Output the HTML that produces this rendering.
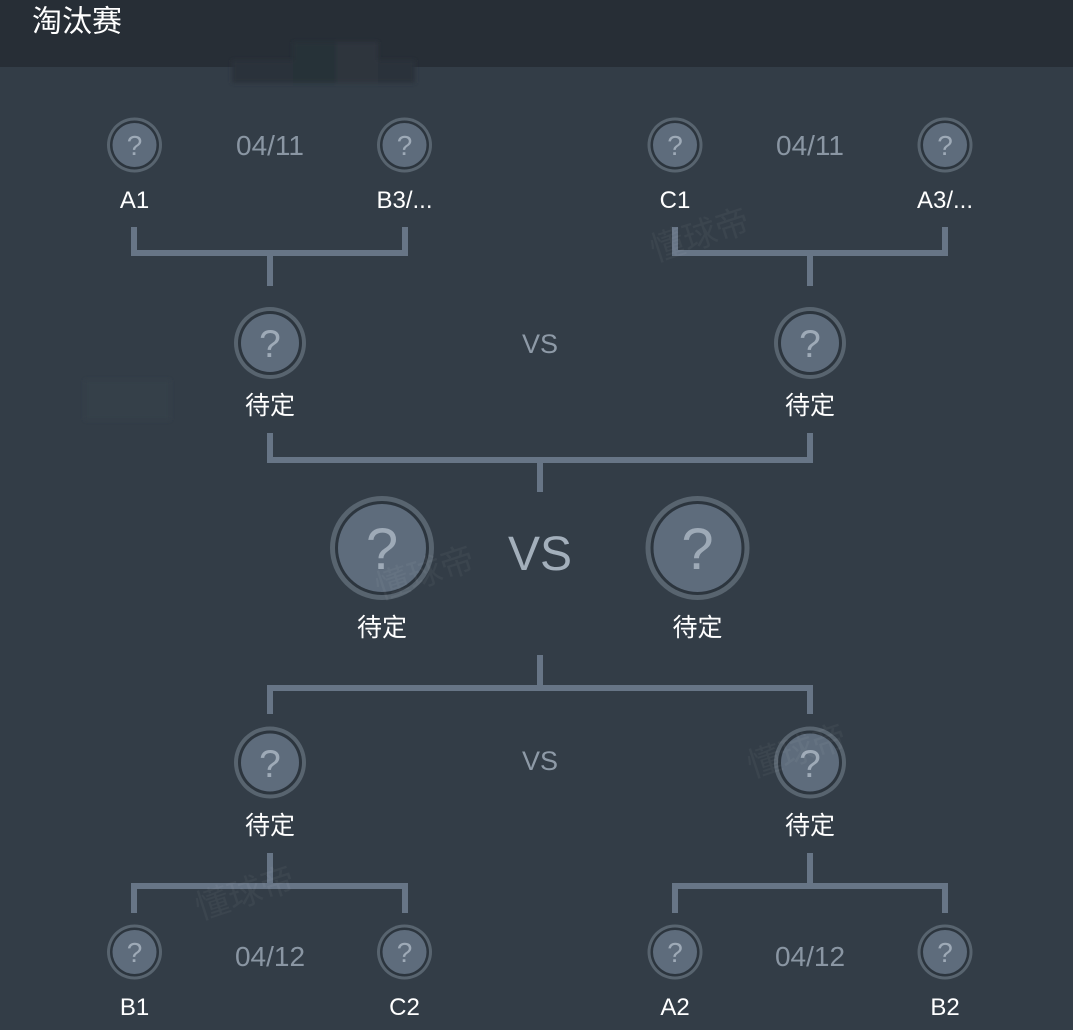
<!DOCTYPE html>
<html>
<head>
<meta charset="utf-8">
<style>
  html,body{margin:0;padding:0;background:#333d47;}
  body{width:1073px;height:1030px;overflow:hidden;position:relative;}
  svg{display:block;}
  .lat{font-family:"Liberation Sans","Noto Sans CJK SC",sans-serif;}
  .cjk{font-family:"Liberation Sans","Noto Sans CJK SC",sans-serif;}
</style>
</head>
<body>
<svg width="1073" height="1030" viewBox="0 0 1073 1030" xmlns="http://www.w3.org/2000/svg">
  <defs>
    <filter id="blur" x="-20%" y="-50%" width="140%" height="200%">
      <feGaussianBlur stdDeviation="2"/>
    </filter>
  </defs>
  <rect x="0" y="0" width="1073" height="1030" fill="#333d47"/>
  <rect x="0" y="0" width="1073" height="67" fill="#272e36"/>
  <g filter="url(#blur)">
    <rect x="232" y="60" width="183" height="23" fill="#2a323b"/>
    <rect x="293" y="42" width="43" height="41" fill="#283039"/>
    <rect x="336" y="42" width="42" height="41" fill="#2f363e"/>
  </g>
  <text class="cjk" x="32" y="22" font-size="30" fill="#ffffff" dominant-baseline="central">淘汰赛</text>

  <rect x="85" y="380" width="85" height="40" fill="#353f49" filter="url(#blur)"/>

  <g fill="#677586">
    <rect x="131" y="227" width="6" height="29"/>
    <rect x="402" y="227" width="6" height="29"/>
    <rect x="131" y="250" width="277" height="6"/>
    <rect x="267" y="256" width="6" height="30"/>
    <rect x="672" y="227" width="6" height="29"/>
    <rect x="942" y="227" width="6" height="29"/>
    <rect x="672" y="250" width="276" height="6"/>
    <rect x="807" y="256" width="6" height="30"/>
    <rect x="267" y="433" width="6" height="30"/>
    <rect x="807" y="433" width="6" height="30"/>
    <rect x="267" y="457" width="546" height="6"/>
    <rect x="537" y="463" width="6" height="29"/>
    <rect x="537" y="655" width="6" height="30"/>
    <rect x="267" y="685" width="546" height="6"/>
    <rect x="267" y="691" width="6" height="23"/>
    <rect x="807" y="691" width="6" height="23"/>
    <rect x="267" y="853" width="6" height="30"/>
    <rect x="131" y="883" width="277" height="6"/>
    <rect x="131" y="889" width="6" height="24"/>
    <rect x="402" y="889" width="6" height="24"/>
    <rect x="807" y="853" width="6" height="30"/>
    <rect x="672" y="883" width="276" height="6"/>
    <rect x="672" y="889" width="6" height="24"/>
    <rect x="942" y="889" width="6" height="24"/>
  </g>

  <g>
    <g transform="translate(134.5,145)">
      <circle r="27.5" fill="#58646f"/><circle r="24.5" fill="#2c353e"/><circle r="22" fill="#5e6c7c"/>
    </g>
    <g transform="translate(404.5,145)">
      <circle r="27.5" fill="#58646f"/><circle r="24.5" fill="#2c353e"/><circle r="22" fill="#5e6c7c"/>
    </g>
    <g transform="translate(675,145)">
      <circle r="27.5" fill="#58646f"/><circle r="24.5" fill="#2c353e"/><circle r="22" fill="#5e6c7c"/>
    </g>
    <g transform="translate(945,145)">
      <circle r="27.5" fill="#58646f"/><circle r="24.5" fill="#2c353e"/><circle r="22" fill="#5e6c7c"/>
    </g>
    <g transform="translate(134.5,952)">
      <circle r="27.5" fill="#58646f"/><circle r="24.5" fill="#2c353e"/><circle r="22" fill="#5e6c7c"/>
    </g>
    <g transform="translate(404.5,952)">
      <circle r="27.5" fill="#58646f"/><circle r="24.5" fill="#2c353e"/><circle r="22" fill="#5e6c7c"/>
    </g>
    <g transform="translate(675,952)">
      <circle r="27.5" fill="#58646f"/><circle r="24.5" fill="#2c353e"/><circle r="22" fill="#5e6c7c"/>
    </g>
    <g transform="translate(945,952)">
      <circle r="27.5" fill="#58646f"/><circle r="24.5" fill="#2c353e"/><circle r="22" fill="#5e6c7c"/>
    </g>
  </g>
  <g class="lat" font-size="28" fill="#9eaab7" text-anchor="middle">
    <text x="134.5" y="155">?</text>
    <text x="404.5" y="155">?</text>
    <text x="675" y="155">?</text>
    <text x="945" y="155">?</text>
    <text x="134.5" y="962">?</text>
    <text x="404.5" y="962">?</text>
    <text x="675" y="962">?</text>
    <text x="945" y="962">?</text>
  </g>

  <g>
    <g transform="translate(270,343)">
      <circle r="36" fill="#58646f"/><circle r="32" fill="#2c353e"/><circle r="29" fill="#5e6c7c"/>
    </g>
    <g transform="translate(810,343)">
      <circle r="36" fill="#58646f"/><circle r="32" fill="#2c353e"/><circle r="29" fill="#5e6c7c"/>
    </g>
    <g transform="translate(270,762.5)">
      <circle r="36" fill="#58646f"/><circle r="32" fill="#2c353e"/><circle r="29" fill="#5e6c7c"/>
    </g>
    <g transform="translate(810,762.5)">
      <circle r="36" fill="#58646f"/><circle r="32" fill="#2c353e"/><circle r="29" fill="#5e6c7c"/>
    </g>
  </g>
  <g class="lat" font-size="39" fill="#9eaab7" text-anchor="middle">
    <text x="270" y="357">?</text>
    <text x="810" y="357">?</text>
    <text x="270" y="777">?</text>
    <text x="810" y="777">?</text>
  </g>

  <g>
    <g transform="translate(382,548)">
      <circle r="52" fill="#58646f"/><circle r="47" fill="#2c353e"/><circle r="44" fill="#5e6c7c"/>
    </g>
    <g transform="translate(697.5,548)">
      <circle r="52" fill="#58646f"/><circle r="47" fill="#2c353e"/><circle r="44" fill="#5e6c7c"/>
    </g>
  </g>
  <g class="lat" font-size="58" fill="#9eaab7" text-anchor="middle">
    <text x="382" y="569">?</text>
    <text x="697.5" y="569">?</text>
  </g>

  <g class="cjk" font-size="34" fill="#ffffff" fill-opacity="0.045">
    <text x="655" y="262" transform="rotate(-18 655 262)">懂球帝</text>
    <text x="380" y="600" transform="rotate(-18 380 600)">懂球帝</text>
    <text x="752" y="778" transform="rotate(-18 752 778)">懂球帝</text>
    <text x="200" y="920" transform="rotate(-18 200 920)">懂球帝</text>
  </g>

  <g class="lat" fill="#8e9aa7" text-anchor="middle">
    <text x="540" y="353" font-size="27">VS</text>
    <text x="540" y="770" font-size="27">VS</text>
    <text x="540" y="570" font-size="48" fill="#a3afbb">VS</text>
  </g>

  <g class="lat" font-size="28" fill="#8a96a3" text-anchor="middle">
    <text x="270" y="155">04/11</text>
    <text x="810" y="155">04/11</text>
    <text x="270" y="966">04/12</text>
    <text x="810" y="966">04/12</text>
  </g>

  <g class="lat" font-size="24" fill="#ffffff" text-anchor="middle">
    <text x="134.5" y="208">A1</text>
    <text x="404.5" y="208">B3/...</text>
    <text x="675" y="208">C1</text>
    <text x="945" y="208">A3/...</text>
    <text x="134.5" y="1015">B1</text>
    <text x="404.5" y="1015">C2</text>
    <text x="675" y="1015">A2</text>
    <text x="945" y="1015">B2</text>
  </g>

  <g class="cjk" font-size="25" fill="#ffffff" text-anchor="middle" dominant-baseline="central">
    <text x="270" y="406">待定</text>
    <text x="810" y="406">待定</text>
    <text x="382" y="628">待定</text>
    <text x="697.5" y="628">待定</text>
    <text x="270" y="826">待定</text>
    <text x="810" y="826">待定</text>
  </g>
</svg>
</body>
</html>
